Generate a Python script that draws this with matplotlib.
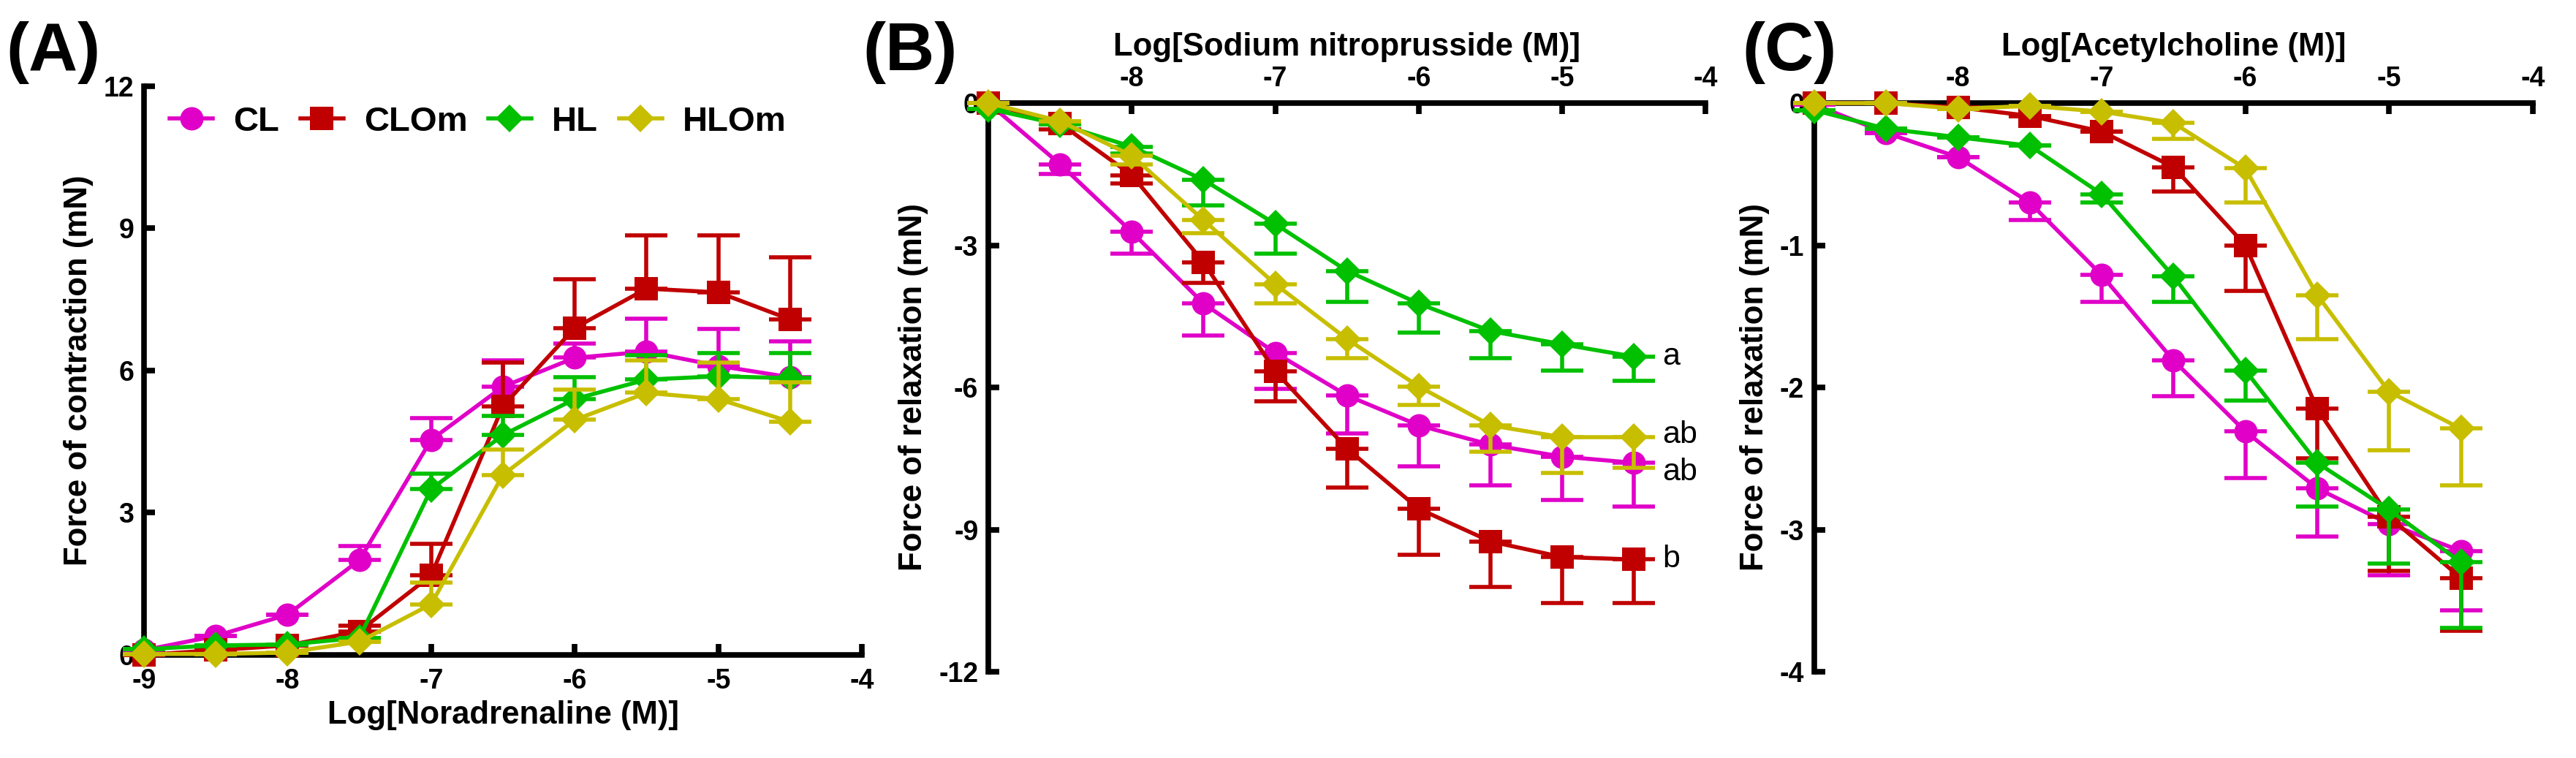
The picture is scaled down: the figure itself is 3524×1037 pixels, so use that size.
import numpy as np
import matplotlib
matplotlib.use("Agg")
import matplotlib.pyplot as plt

plt.rcParams["font.family"] = ["Liberation Sans", "DejaVu Sans"]
plt.rcParams["axes.unicode_minus"] = False

# ---------------------------------------------
# Data (log molar concentration)
# ---------------------------------------------

log_conc = [-9, -8.5, -8, -7.5, -7, -6.5, -6, -5.5, -5, -4.5]

groups = ["CL", "CLOm", "HL", "HLOm"]
colors = ["#E000C8", "#C00000", "#00C000", "#C8BE00"]
markers = ["o", "s", "D", "D"]
marker_sizes = [23, 23, 19, 19]

# (A) Noradrenaline - force of contraction (mN), mean and upper SEM
na_cl = [0.1, 0.4, 0.85, 2.0, 4.54, 5.66, 6.27, 6.4, 6.1, 5.86]
na_cl_sem = [0.0, 0.0, 0.0, 0.3, 0.45, 0.55, 0.3, 0.7, 0.78, 0.76]
na_clom = [0.0, 0.1, 0.2, 0.5, 1.68, 5.25, 6.9, 7.73, 7.65, 7.08]
na_clom_sem = [0.0, 0.0, 0.0, 0.12, 0.67, 0.92, 1.03, 1.12, 1.2, 1.31]
na_hl = [0.12, 0.2, 0.22, 0.36, 3.5, 4.64, 5.4, 5.81, 5.88, 5.84]
na_hl_sem = [0.0, 0.0, 0.0, 0.0, 0.32, 0.41, 0.46, 0.51, 0.49, 0.53]
na_hlom = [0.02, 0.02, 0.05, 0.28, 1.07, 3.8, 4.96, 5.53, 5.4, 4.92]
na_hlom_sem = [0.0, 0.0, 0.0, 0.0, 0.46, 0.53, 0.64, 0.69, 0.77, 0.84]

# (B) Sodium nitroprusside - force of relaxation (mN), mean and lower SEM
snp_cl = [0.0, -1.29, -2.72, -4.23, -5.27, -6.17, -6.8, -7.21, -7.46, -7.59]
snp_cl_sem = [0.0, 0.21, 0.46, 0.68, 0.76, 0.8, 0.87, 0.86, 0.92, 0.92]
snp_clom = [0.0, -0.43, -1.52, -3.36, -5.66, -7.29, -8.56, -9.25, -9.58, -9.63]
snp_clom_sem = [0.0, 0.12, 0.18, 0.43, 0.63, 0.83, 0.97, 0.96, 0.97, 0.92]
snp_hl = [-0.12, -0.45, -0.92, -1.62, -2.55, -3.54, -4.23, -4.81, -5.09, -5.35]
snp_hl_sem = [0.0, 0.0, 0.15, 0.54, 0.63, 0.66, 0.61, 0.58, 0.56, 0.51]
snp_hlom = [0.0, -0.38, -1.11, -2.47, -3.82, -4.98, -5.98, -6.8, -7.05, -7.05]
snp_hlom_sem = [0.0, 0.0, 0.18, 0.28, 0.41, 0.41, 0.39, 0.56, 0.75, 0.65]

snp_letters = ["ab", "b", "a", "ab"]

# (C) Acetylcholine - force of relaxation (mN), mean and lower SEM
ach_cl = [-0.01, -0.21, -0.38, -0.7, -1.21, -1.81, -2.31, -2.71, -2.96, -3.15]
ach_cl_sem = [0.0, 0.0, 0.0, 0.12, 0.19, 0.25, 0.33, 0.34, 0.36, 0.42]
ach_clom = [0.0, 0.0, -0.03, -0.09, -0.2, -0.45, -1.0, -2.15, -2.91, -3.34]
ach_clom_sem = [0.0, 0.0, 0.0, 0.0, 0.0, 0.17, 0.32, 0.35, 0.38, 0.37]
ach_hl = [-0.05, -0.18, -0.24, -0.3, -0.64, -1.22, -1.88, -2.53, -2.86, -3.23]
ach_hl_sem = [0.0, 0.0, 0.0, 0.0, 0.06, 0.18, 0.21, 0.31, 0.38, 0.46]
ach_hlom = [0.0, 0.0, -0.04, -0.02, -0.06, -0.14, -0.46, -1.35, -2.03, -2.29]
ach_hlom_sem = [0.0, 0.0, 0.0, 0.0, 0.0, 0.11, 0.24, 0.31, 0.41, 0.4]

na_means = [na_cl, na_clom, na_hl, na_hlom]
na_sems = [na_cl_sem, na_clom_sem, na_hl_sem, na_hlom_sem]
snp_means = [snp_cl, snp_clom, snp_hl, snp_hlom]
snp_sems = [snp_cl_sem, snp_clom_sem, snp_hl_sem, snp_hlom_sem]
ach_means = [ach_cl, ach_clom, ach_hl, ach_hlom]
ach_sems = [ach_cl_sem, ach_clom_sem, ach_hl_sem, ach_hlom_sem]

# ---------------------------------------------
# Figure
# ---------------------------------------------

W, H = 3524, 1037
fig = plt.figure(figsize=(W / 100, H / 100), dpi=100)

LW = 4.0
SPINE = 5.5
TICK_FS = 27
LABEL_FS = 31.5


def draw_series(ax, means, sems, upward):
    handles = []
    for i in range(len(groups)):
        sem = np.array(sems[i])
        zero = np.zeros_like(sem)
        yerr = [zero, sem] if upward else [sem, zero]
        ax.errorbar(log_conc, means[i], yerr=yerr, fmt="none",
                    ecolor=colors[i], elinewidth=LW, capsize=21,
                    capthick=LW, zorder=3 + 2 * i, clip_on=False)
        h, = ax.plot(log_conc, means[i], color=colors[i], lw=LW,
                     marker=markers[i], markersize=marker_sizes[i],
                     markeredgewidth=0, zorder=4 + 2 * i, clip_on=False,
                     label=groups[i])
        handles.append(h)
    return handles


def style_axes(ax, top):
    for side in ["top", "right", "bottom", "left"]:
        ax.spines[side].set_visible(False)
    ax.spines["left"].set_visible(True)
    ax.spines["left"].set_linewidth(SPINE)
    xside = "top" if top else "bottom"
    ax.spines[xside].set_visible(True)
    ax.spines[xside].set_linewidth(SPINE)
    if top:
        ax.xaxis.tick_top()
        ax.xaxis.set_label_position("top")
    ax.tick_params(direction="in", length=11, width=SPINE,
                   labelsize=TICK_FS)
    ax.tick_params(axis="x", pad=13 if not top else 11)
    ax.tick_params(axis="y", pad=10)
    for lab in ax.get_xticklabels() + ax.get_yticklabels():
        lab.set_fontweight("bold")


# ---------------------------------------------
# (A) Noradrenaline
# ---------------------------------------------

axA = fig.add_axes([0.0559, 0.1360, 0.2787, 0.7502])
handles = draw_series(axA, na_means, na_sems, upward=True)
axA.set_xlim(-9, -4)
axA.set_ylim(0, 12)
axA.set_xticks([-9, -8, -7, -6, -5, -4])
axA.set_yticks([0, 3, 6, 9, 12])
style_axes(axA, top=False)
axA.set_xlabel("Log[Noradrenaline (M)]", fontsize=LABEL_FS,
               fontweight="bold", labelpad=6)
axA.set_ylabel("Force of contraction (mN)", fontsize=LABEL_FS,
               fontweight="bold", labelpad=10)
fig.legend(handles=handles, loc="center left",
           bbox_to_anchor=(232 / W, 1 - 167 / H), ncol=4, frameon=False,
           prop={"weight": "bold", "size": 34}, handlelength=1.25,
           handletextpad=0.6, columnspacing=0.6, borderpad=0,
           borderaxespad=0)

# ---------------------------------------------
# (B) Sodium nitroprusside
# ---------------------------------------------

axB = fig.add_axes([0.3837, 0.1138, 0.2784, 0.7502])
draw_series(axB, snp_means, snp_sems, upward=False)
axB.set_xlim(-9, -4)
axB.set_ylim(-12, 0)
axB.set_xticks([-8, -7, -6, -5, -4])
axB.set_yticks([0, -3, -6, -9, -12])
style_axes(axB, top=True)
axB.set_xlabel("Log[Sodium nitroprusside (M)]", fontsize=LABEL_FS,
               fontweight="bold", labelpad=10)
axB.set_ylabel("Force of relaxation (mN)", fontsize=LABEL_FS,
               fontweight="bold", labelpad=10)

# significance letters next to the last point
letter_y = [snp_cl[-1] - 0.2, snp_clom[-1], snp_hl[-1], snp_hlom[-1] + 0.05]
for txt, yy in zip(snp_letters, letter_y):
    axB.text(-4.3, yy, txt, fontsize=31, va="center", ha="left")

# ---------------------------------------------
# (C) Acetylcholine
# ---------------------------------------------

axC = fig.add_axes([0.7043, 0.1138, 0.2789, 0.7502])
draw_series(axC, ach_means, ach_sems, upward=False)
axC.set_xlim(-9, -4)
axC.set_ylim(-4, 0)
axC.set_xticks([-8, -7, -6, -5, -4])
axC.set_yticks([0, -1, -2, -3, -4])
style_axes(axC, top=True)
axC.set_xlabel("Log[Acetylcholine (M)]", fontsize=LABEL_FS,
               fontweight="bold", labelpad=10)
axC.set_ylabel("Force of relaxation (mN)", fontsize=LABEL_FS,
               fontweight="bold", labelpad=10)

# panel letters
for lbl, xx in [("(A)", 8), ("(B)", 1180), ("(C)", 2383)]:
    fig.text(xx / W, 1 - 72 / H, lbl, fontsize=67, fontweight="bold",
             ha="left", va="center")

fig.savefig("out.png", dpi=100)
